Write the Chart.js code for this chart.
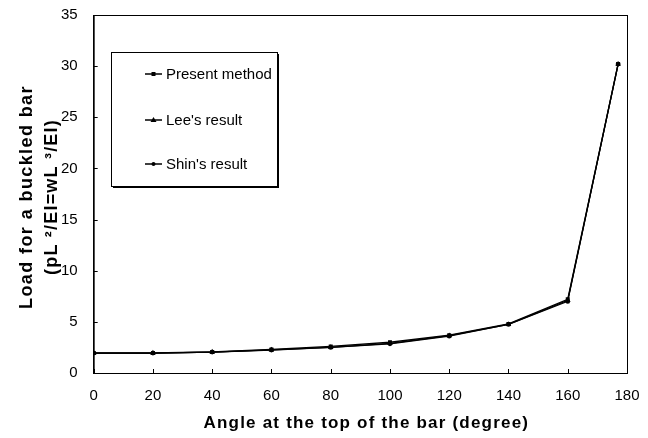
<!DOCTYPE html>
<html>
<head>
<meta charset="utf-8">
<script src="https://cdn.jsdelivr.net/npm/chart.js@4.4.0/dist/chart.umd.min.js"></script>
<style>
  html, body { margin: 0; padding: 0; background: #fff; }
  #wrap { width: 648px; height: 438px; }
</style>
</head>
<body>
<div id="wrap"><canvas id="chart" width="648" height="438"></canvas></div>
<script>
// angles (degree)
var angles = [0, 20, 40, 60, 80, 100, 120, 140, 160, 177];
// load values
var present_method = [1.95, 1.95, 2.05, 2.3, 2.6, 3.0, 3.7, 4.8, 7.2, 30.2];
var lee_result = [1.95, 1.95, 2.05, 2.25, 2.5, 2.9, 3.65, 4.75, 7.1, 30.2];
var shin_result = [1.95, 1.95, 2.05, 2.25, 2.5, 2.85, 3.6, 4.75, 7.0, 30.2];
var legend_labels = ['Present method', "Lee's result", "Shin's result"];
var x_title = 'Angle at the top of the bar (degree)';
var y_title = ['Load for a buckled bar', '(pL \u00b2/EI=wL \u00b3/EI)'];

var font_family = '"Liberation Sans", Arial, sans-serif';

function pts(xs, ys) {
    var out = [];
    for (var i = 0; i < xs.length; i++) out.push({x: xs[i], y: ys[i]});
    return out;
}

// frame, inner ticks, axis titles (letter spaced) and the legend box
var boxPlugin = {
    id: 'boxPlugin',
    afterDraw: function(chart) {
        var ctx = chart.ctx;
        var a = chart.chartArea;
        var xs = chart.scales.x, ys = chart.scales.y;
        ctx.save();
        ctx.strokeStyle = '#000';
        ctx.fillStyle = '#000';
        ctx.lineWidth = 1;
        ctx.strokeRect(a.left + 0.5, a.top + 0.5, a.right - a.left, a.bottom - a.top);

        // ticks pointing into the plot
        ctx.beginPath();
        xs.ticks.forEach(function(t) {
            var px = Math.round(xs.getPixelForValue(t.value)) + 0.5;
            ctx.moveTo(px, a.bottom); ctx.lineTo(px, a.bottom - 4);
        });
        ys.ticks.forEach(function(t) {
            var py = Math.round(ys.getPixelForValue(t.value)) + 0.5;
            ctx.moveTo(a.left, py); ctx.lineTo(a.left + 4, py);
        });
        ctx.stroke();

        // axis titles
        ctx.font = 'bold 17px ' + font_family;
        ctx.letterSpacing = '1.2px';
        ctx.textAlign = 'center';
        ctx.textBaseline = 'alphabetic';
        ctx.fillText(x_title, (a.left + a.right) / 2 + 6, 428);
        ctx.save();
        ctx.translate(0, (a.top + a.bottom) / 2 + 3);
        ctx.rotate(-Math.PI / 2);
        ctx.font = 'bold 18px ' + font_family;
        ctx.letterSpacing = '1.4px';
        ctx.fillText(y_title[0], 0, 32);
        ctx.letterSpacing = '1.2px';
        ctx.fillText(y_title[1], 0, 57);
        ctx.restore();
        ctx.letterSpacing = '0px';

        // legend
        var lx = 111, ly = 52, lw = 166, lh = 134;
        ctx.fillStyle = '#fff';
        ctx.fillRect(lx, ly, lw, lh);
        ctx.fillStyle = '#000';
        ctx.fillRect(lx + 2, ly + lh, lw, 2);
        ctx.fillRect(lx + lw, ly + 2, 2, lh);
        ctx.strokeRect(lx + 0.5, ly + 0.5, lw, lh);
        ctx.font = '15px ' + font_family;
        ctx.textAlign = 'left';
        ctx.textBaseline = 'middle';
        var ly_list = [74, 120, 164];
        var styles = ['rect', 'triangle', 'circle'];
        for (var i = 0; i < legend_labels.length; i++) {
            ctx.beginPath();
            ctx.moveTo(145, ly_list[i]);
            ctx.lineTo(162, ly_list[i]);
            ctx.lineWidth = 1.5;
            ctx.stroke();
            ctx.lineWidth = 1;
            ctx.beginPath();
            if (styles[i] == 'rect') ctx.rect(151.5, ly_list[i] - 2, 4, 4);
            else if (styles[i] == 'triangle') { ctx.moveTo(153.5, ly_list[i] - 3); ctx.lineTo(156.5, ly_list[i] + 2); ctx.lineTo(150.5, ly_list[i] + 2); ctx.closePath(); }
            else ctx.arc(153.5, ly_list[i], 2, 0, Math.PI * 2);
            ctx.fill();
            ctx.fillText(legend_labels[i], 166, ly_list[i] + 1);
        }
        ctx.restore();
    }
};

var datasets = [
    {label: legend_labels[0], data: pts(angles, present_method), pointStyle: 'rect', pointRadius: 2.8, borderWidth: 1.4},
    {label: legend_labels[1], data: pts(angles, lee_result), pointStyle: 'triangle', pointRadius: 3.2, borderWidth: 1.3},
    {label: legend_labels[2], data: pts(angles, shin_result), pointStyle: 'circle', pointRadius: 2.4, borderWidth: 1.2}
];
datasets.forEach(function(d) {
    d.borderColor = '#000';
    d.backgroundColor = '#000';
    d.pointBackgroundColor = '#000';
    d.pointBorderColor = '#000';
    d.pointBorderWidth = 0;
    d.tension = 0;
});

new Chart(document.getElementById('chart'), {
    type: 'line',
    data: {datasets: datasets},
    plugins: [boxPlugin],
    options: {
        responsive: false,
        animation: false,
        layout: {padding: {top: 15, right: 21, left: 45, bottom: 19}},
        plugins: {legend: {display: false}, tooltip: {enabled: false}},
        scales: {
            x: {
                type: 'linear', min: 0, max: 180,
                ticks: {stepSize: 20, color: '#000', font: {family: font_family, size: 15}, padding: 14},
                grid: {display: false, drawTicks: false},
                border: {color: '#000'},
                afterFit: function(s) { s.paddingLeft = 0; s.paddingRight = 0; }
            },
            y: {
                min: 0, max: 35,
                ticks: {stepSize: 5, color: '#000', font: {family: font_family, size: 15}, padding: 16},
                grid: {display: false, drawTicks: false},
                border: {color: '#000'},
                afterFit: function(s) { s.paddingTop = 0; s.paddingBottom = 0; }
            }
        }
    }
});
</script>
</body>
</html>
